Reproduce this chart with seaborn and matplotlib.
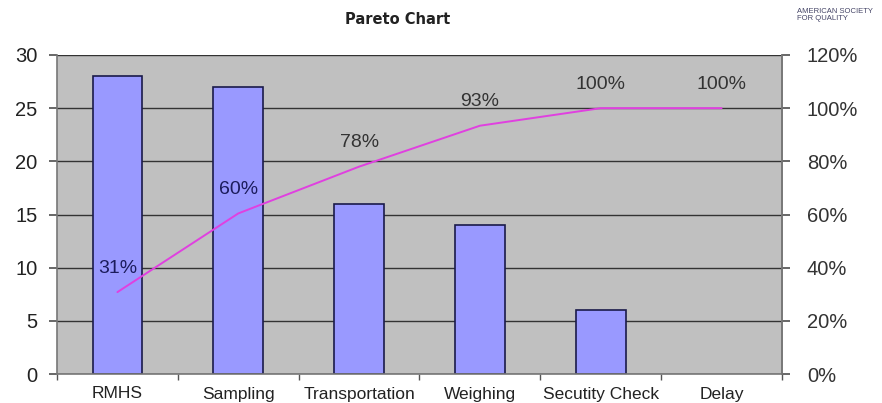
import numpy as np
import pandas as pd
import matplotlib
matplotlib.use("Agg")
import matplotlib.pyplot as plt
import seaborn as sns
from matplotlib.ticker import PercentFormatter, FixedLocator

categories = ["RMHS", "Sampling", "Transportation", "Weighing", "Secutity Check", "Delay"]
counts = [28, 27, 16, 14, 6, 0]
cum_pct = [30.8, 60.4, 78.0, 93.4, 100.0, 100.0]
pct_labels = ["31%", "60%", "78%", "93%", "100%", "100%"]

sns.set_theme(style="white")
plt.rcParams['font.family'] = ['Liberation Sans', 'DejaVu Sans']

df = pd.DataFrame({"category": categories, "count": counts})

fig = plt.figure(figsize=(8.82, 4.03), dpi=100)
ax = fig.add_axes([57/882, 1-374/403, (782-57)/882, (374-55)/403])
ax.set_facecolor("#C0C0C0")

sns.barplot(data=df, x="category", y="count", ax=ax, color="#9999FF",
            width=0.41, edgecolor="#1a1a4a", linewidth=1.2, saturation=1)
for p in ax.patches:
    if p.get_height() == 0:
        p.set_linewidth(0)
ax.set_ylim(0, 30)
ax.set_xlim(-0.5, len(categories) - 0.5)
ax.set_yticks(np.arange(0, 31, 5))
ax.yaxis.grid(True, color="#333333", linewidth=1)
ax.set_axisbelow(True)
ax.set_xlabel("")
ax.set_ylabel("")
ax.tick_params(axis="y", labelsize=14.5, length=6, color="#555555", colors="#222222", direction="out", left=True, pad=8)
ax.tick_params(axis="x", labelsize=12.5, length=0, colors="#222222", pad=9)
ax.xaxis.set_minor_locator(FixedLocator(np.arange(-0.5, len(categories), 1.0)))
ax.tick_params(axis="x", which="minor", length=4, color="#555555", bottom=True)
ax.spines["top"].set_visible(False)
for s in ["left", "bottom", "right"]:
    ax.spines[s].set_color("#777777")
    ax.spines[s].set_linewidth(1.2)

ax2 = ax.twinx()
x_pos = np.arange(len(categories))
sns.lineplot(x=x_pos, y=cum_pct, ax=ax2, color="#E040E0", linewidth=1.4)
ax2.set_ylim(0, 120)
ax2.set_xlim(-0.5, len(categories) - 0.5)
ax2.set_yticks(np.arange(0, 121, 20))
ax2.yaxis.set_major_formatter(PercentFormatter(decimals=0))
ax2.tick_params(axis="y", labelsize=14.5, length=6, color="#555555", colors="#333333", direction="out", right=True, pad=12)
ax2.set_ylabel("")
for s in ["top", "left", "bottom"]:
    ax2.spines[s].set_visible(False)
ax2.spines["right"].set_color("#777777")
ax2.spines["right"].set_linewidth(1.2)

for i, (xi, yv, lab) in enumerate(zip(x_pos, cum_pct, pct_labels)):
    ax2.annotate(lab, (xi, yv), xytext=(0, 11), textcoords="offset points",
                 ha="center", va="bottom", fontsize=14,
                 color="#1c1c5c" if i < 2 else "#333333")

fig.text(398/882, 1-19/403, "Pareto Chart", ha="center", va="center",
         fontsize=10.5, fontweight="bold", family=["DejaVu Sans"], color="#222222")
fig.text(797/882, 1-15/403, "AMERICAN SOCIETY\nFOR QUALITY", ha="left", va="center",
         fontsize=5.5, color="#444466", linespacing=1.0)

fig.savefig("out.png", dpi=100)
